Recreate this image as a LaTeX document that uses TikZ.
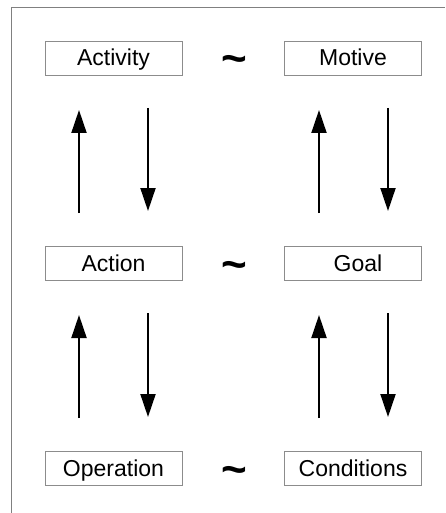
\documentclass[tikz,border=0pt]{standalone}
\usepackage{fontspec}
\setmainfont{Liberation Sans}
\usetikzlibrary{arrows.meta}
\begin{document}
\begin{tikzpicture}[x=1pt,y=-1pt,
  box/.style={draw=black!45,line width=0.8pt,minimum width=137pt,minimum height=34pt,inner sep=0pt,text height=17pt,text depth=1pt,font=\fontsize{23}{26}\selectfont},
  tld/.style={inner sep=0pt,anchor=base,font=\fontsize{44}{46}\selectfont\bfseries},
  arr/.style={line width=2pt,-{Triangle[length=23pt,width=15pt]}},
  frame/.style={draw=black!50,line width=0.9pt}]
\useasboundingbox (0,0) rectangle (445,513);
\coordinate (fb) at (11,513);
\coordinate (fc) at (11,7);
\coordinate (fr) at (445,7);
\draw[frame] (fb) -- (fc) -- (fr);
\node[box] (activity) at (113.5,58) {Activity};
\node[box] (motive) at (353,58) {Motive};
\node[box] (action) at (113.5,263.5) {Action};
\node[box] (goal) at (353,263.5) {\hspace*{10pt}Goal};
\node[box] (operation) at (113.5,468) {Operation};
\node[box] (conditions) at (353,468) {Conditions};
\node[tld] (t1) at (234,74) {\char`\~};
\node[tld] (t2) at (234,279) {\char`\~};
\node[tld] (t3) at (234,484) {\char`\~};
\coordinate (a1s) at (79,213); \coordinate (a1e) at (79,110);
\coordinate (a2s) at (148,108); \coordinate (a2e) at (148,211);
\coordinate (a3s) at (319,213); \coordinate (a3e) at (319,110);
\coordinate (a4s) at (388,108); \coordinate (a4e) at (388,211);
\coordinate (b1s) at (79,418); \coordinate (b1e) at (79,315);
\coordinate (b2s) at (148,313); \coordinate (b2e) at (148,417);
\coordinate (b3s) at (319,418); \coordinate (b3e) at (319,315);
\coordinate (b4s) at (388,313); \coordinate (b4e) at (388,417);
\foreach \s/\e in {a1s/a1e,a2s/a2e,a3s/a3e,a4s/a4e,b1s/b1e,b2s/b2e,b3s/b3e,b4s/b4e}
  \draw[arr] (\s) -- (\e);
\end{tikzpicture}
\end{document}
